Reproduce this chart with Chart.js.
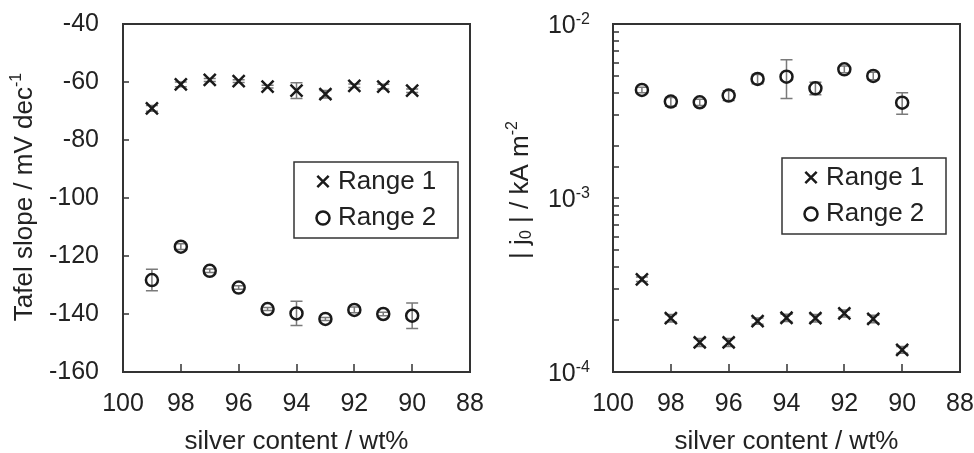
<!DOCTYPE html>
<html>
<head>
<meta charset="utf-8">
<script src="https://cdn.jsdelivr.net/npm/chart.js@4.4.0/dist/chart.umd.min.js"></script>
<style>
  body { margin: 0; background: #fff; }
  .wrap { position: absolute; top: 0; width: 487px; height: 453px; }
</style>
</head>
<body>
<div class="wrap" style="left:0"><canvas id="tafel" width="487" height="453"></canvas></div>
<div class="wrap" style="left:487px"><canvas id="j0" width="487" height="453"></canvas></div>
<script>
// silver content of each alloy (wt%)
const silver = [99, 98, 97, 96, 95, 94, 93, 92, 91, 90];

// Tafel slopes, mV dec-1
const tafelRange1 = [-69.1, -60.8, -59.3, -59.7, -61.6, -63.0, -64.2, -61.3, -61.6, -63.0];
const tafelRange1Err = [1.0, 0.8, 0.5, 0.5, 0.5, 2.7, 1.3, 0.6, 0.8, 0.6];
const tafelRange2 = [-128.3, -116.8, -125.1, -130.9, -138.3, -139.8, -141.7, -138.6, -140.0, -140.6];
const tafelRange2Err = [3.7, 1.0, 0.6, 0.6, 0.5, 4.2, 0.5, 1.0, 0.6, 4.4];

// exchange current density |j0|, kA m-2
const j0Range1 = [3.41e-4, 2.04e-4, 1.48e-4, 1.48e-4, 1.96e-4, 2.05e-4, 2.04e-4, 2.17e-4, 2.02e-4, 1.34e-4];
const j0Range1Err = [0.1e-4, 0.1e-4, 0.08e-4, 0.08e-4, 0.08e-4, 0.1e-4, 0.1e-4, 0.1e-4, 0.1e-4, 0.06e-4];
const j0Range2 = [4.18e-3, 3.58e-3, 3.55e-3, 3.88e-3, 4.83e-3, 4.98e-3, 4.27e-3, 5.49e-3, 5.03e-3, 3.53e-3];
const j0Range2Err = [0.15e-3, 0.2e-3, 0.15e-3, 0.25e-3, 0.3e-3, 1.25e-3, 0.35e-3, 0.25e-3, 0.25e-3, 0.5e-3];

// axis ranges / ticks
const silverMin = 88, silverMax = 100, silverStep = 2;
const tafelMin = -160, tafelMax = -40, tafelStep = 20;
const j0Decades = [1e-4, 1e-3, 1e-2];

// axis titles, split into normal / raised / lowered parts
const tafelTitle = [['Tafel slope / mV dec', 0], ['-1', -8]];
const j0Title = [['| j', 0], ['0', 6], [' | / kA m', 0], ['-2', -8]];

const FONT = '"Liberation Sans", Arial, sans-serif';
const INK = '#222';

function pts(ys) {
  return silver.map((x, i) => ({ x: x, y: ys[i] }));
}

function dataset(label, ys, errs, style) {
  return {
    label: label,
    data: pts(ys),
    errorBars: errs,
    pointStyle: style,
    pointRadius: style === 'circle' ? 6 : 8.5,
    borderColor: '#1a1a1a',
    backgroundColor: 'rgba(0,0,0,0)',
    borderWidth: 2.5
  };
}

// box around the plot, inward tick marks, error bars
const framePlugin = {
  id: 'frame',
  beforeDatasetsDraw(chart) {
    const { ctx, chartArea: a, scales } = chart;
    ctx.save();
    ctx.strokeStyle = '#333';
    ctx.lineWidth = 1.5;
    ctx.beginPath();
    scales.x.ticks.forEach(t => {
      const px = Math.round(scales.x.getPixelForValue(t.value));
      if (px <= a.left + 1 || px >= a.right - 1) return;
      ctx.moveTo(px, a.bottom);
      ctx.lineTo(px, a.bottom - 8);
    });
    scales.y.ticks.forEach(t => {
      const py = Math.round(scales.y.getPixelForValue(t.value));
      if (py <= a.top + 1 || py >= a.bottom - 1) return;
      ctx.moveTo(a.left, py);
      ctx.lineTo(a.left + 6, py);
    });
    ctx.stroke();
    ctx.lineWidth = 2;
    ctx.strokeRect(a.left, a.top, a.right - a.left, a.bottom - a.top);

    // error bars
    ctx.strokeStyle = '#7a7a7a';
    ctx.lineWidth = 1.5;
    chart.data.datasets.forEach((ds, i) => {
      if (!ds.errorBars) return;
      const meta = chart.getDatasetMeta(i);
      meta.data.forEach((el, j) => {
        const v = ds.data[j].y, e = ds.errorBars[j];
        const yHi = scales.y.getPixelForValue(v + e);
        const yLo = scales.y.getPixelForValue(v - e);
        ctx.beginPath();
        ctx.moveTo(el.x, yHi); ctx.lineTo(el.x, yLo);
        ctx.moveTo(el.x - 6, yHi); ctx.lineTo(el.x + 6, yHi);
        ctx.moveTo(el.x - 6, yLo); ctx.lineTo(el.x + 6, yLo);
        ctx.stroke();
      });
    });
    ctx.restore();
  }
};

// boxed legend inside the plot
function boxLegend(box) {
  return {
    id: 'boxLegend',
    afterDraw(chart) {
      const { ctx } = chart;
      ctx.save();
      ctx.fillStyle = '#fff';
      ctx.fillRect(box.left, box.top, box.width, box.height);
      ctx.strokeStyle = '#333';
      ctx.lineWidth = 1.5;
      ctx.strokeRect(box.left, box.top, box.width, box.height);
      chart.data.datasets.forEach((ds, i) => {
        const y = box.top + 19.5 + i * 36.5;
        ctx.strokeStyle = ds.borderColor;
        ctx.fillStyle = 'rgba(0,0,0,0)';
        ctx.lineWidth = ds.borderWidth;
        Chart.helpers.drawPoint(ctx, {
          pointStyle: ds.pointStyle,
          radius: ds.pointStyle === 'circle' ? 6.5 : 8,
          rotation: 0,
          borderWidth: ds.borderWidth
        }, box.left + 29, y);
        ctx.fillStyle = INK;
        ctx.font = '26px ' + FONT;
        ctx.textBaseline = 'middle';
        ctx.textAlign = 'left';
        ctx.fillText(ds.label, box.left + 44, y);
      });
      ctx.restore();
    }
  };
}

// text with superscripts / subscripts
function layoutRich(ctx, parts, size) {
  let total = 0;
  const items = parts.map(p => {
    const s = p[1] ? 16 : size;
    ctx.font = s + 'px ' + FONT;
    const w = ctx.measureText(p[0]).width;
    total += w;
    return { t: p[0], s: s, w: w, dy: p[1] };
  });
  return { items: items, total: total };
}

function drawRich(ctx, lay, x0, y) {
  let x = x0;
  lay.items.forEach(it => {
    ctx.font = it.s + 'px ' + FONT;
    ctx.fillText(it.t, x, y + it.dy);
    x += it.w;
  });
}

function richText(title, tx, ty, decades) {
  return {
    id: 'richText',
    afterDraw(chart) {
      const { ctx, chartArea: a } = chart;
      ctx.save();
      ctx.fillStyle = INK;
      ctx.textBaseline = 'middle';
      ctx.textAlign = 'left';
      // rotated y-axis title
      const lay = layoutRich(ctx, title, 26);
      ctx.translate(tx, ty);
      ctx.rotate(-Math.PI / 2);
      drawRich(ctx, lay, -lay.total / 2, 0);
      ctx.setTransform(1, 0, 0, 1, 0, 0);
      // power-of-ten labels for the log axis
      if (decades) {
        const sc = chart.scales.y;
        decades.forEach(v => {
          const py = sc.getPixelForValue(v);
          const exp = Math.round(Math.log10(v));
          const l = layoutRich(ctx, [['10', 0], ['-' + (-exp), -6]], 25);
          drawRich(ctx, l, a.left - 23 - l.total, py + 2);
        });
      }
      ctx.restore();
    }
  };
}

const tickFont = { size: 25, family: FONT };
const titleFont = { size: 26, family: FONT, lineHeight: 1 };

function noPad(s) {
  s.paddingTop = 0; s.paddingBottom = 0; s.paddingLeft = 0; s.paddingRight = 0;
}

function xAxis() {
  return {
    type: 'linear',
    reverse: true,
    min: silverMin,
    max: silverMax,
    afterFit: s => { s.height = 81; noPad(s); },
    grid: { display: false, drawTicks: false },
    border: { display: false },
    ticks: { stepSize: silverStep, padding: 17, color: INK, font: tickFont, maxRotation: 0 },
    title: { display: true, text: 'silver content / wt%', color: INK, font: titleFont, padding: { top: 0, bottom: -2 } }
  };
}

new Chart(document.getElementById('tafel'), {
  type: 'scatter',
  data: {
    datasets: [
      dataset('Range 1', tafelRange1, tafelRange1Err, 'crossRot'),
      dataset('Range 2', tafelRange2, tafelRange2Err, 'circle')
    ]
  },
  options: {
    responsive: false,
    animation: false,
    events: [],
    layout: { padding: { top: 24, right: 17, left: 0, bottom: 0 } },
    plugins: { legend: { display: false }, tooltip: { enabled: false } },
    scales: {
      x: xAxis(),
      y: {
        min: tafelMin,
        max: tafelMax,
        afterFit: s => { s.width = 123; noPad(s); },
        grid: { display: false, drawTicks: false },
        border: { display: false },
        ticks: { stepSize: tafelStep, padding: 24, color: INK, font: tickFont }
      }
    }
  },
  plugins: [framePlugin, boxLegend({ left: 294, top: 162, width: 164, height: 76 }),
            richText(tafelTitle, 25, 197)]
});

new Chart(document.getElementById('j0'), {
  type: 'scatter',
  data: {
    datasets: [
      dataset('Range 1', j0Range1, j0Range1Err, 'crossRot'),
      dataset('Range 2', j0Range2, j0Range2Err, 'circle')
    ]
  },
  options: {
    responsive: false,
    animation: false,
    events: [],
    layout: { padding: { top: 24, right: 14, left: 0, bottom: 0 } },
    plugins: { legend: { display: false }, tooltip: { enabled: false } },
    scales: {
      x: xAxis(),
      y: {
        type: 'logarithmic',
        min: j0Decades[0],
        max: j0Decades[j0Decades.length - 1],
        afterFit: s => { s.width = 126; noPad(s); },
        grid: { display: false, drawTicks: false },
        border: { display: false },
        ticks: { display: false, autoSkip: false }
      }
    }
  },
  plugins: [framePlugin, boxLegend({ left: 295, top: 158, width: 164, height: 76 }),
            richText(j0Title, 34, 190, j0Decades)]
});
</script>
</body>
</html>
